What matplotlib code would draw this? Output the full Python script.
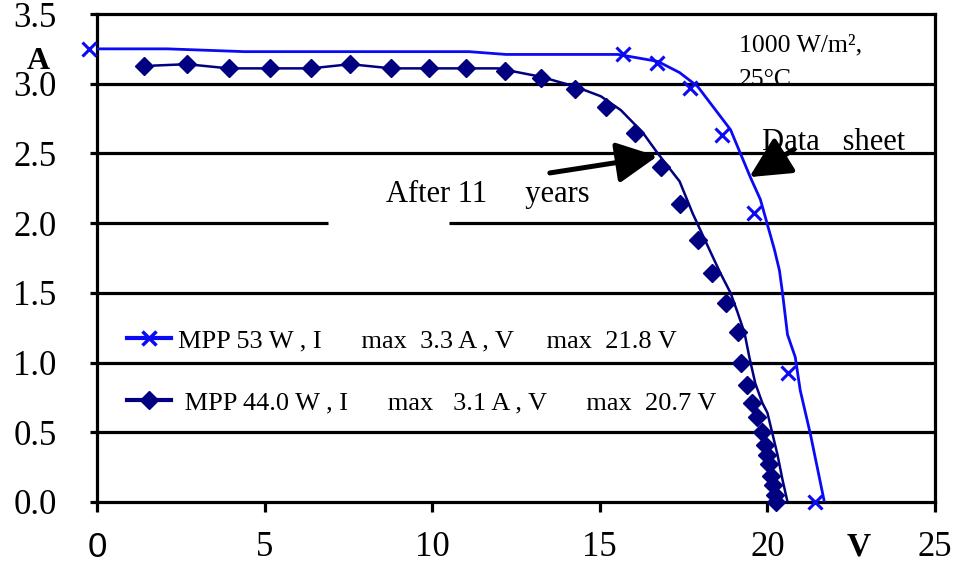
import matplotlib
matplotlib.use("Agg")
import matplotlib.pyplot as plt
from matplotlib.lines import Line2D

plt.rcParams['font.family'] = ['Liberation Serif', 'DejaVu Serif']

# Data sheet curve (line) and its measured markers
ds_line_v = [0.0, 2.1, 4.4, 11.1, 12.2, 15.54, 16.73, 17.38, 17.92, 18.90, 19.49, 19.79,
             20.21, 20.36, 20.45, 20.60, 20.83, 20.98, 21.28, 21.70]
ds_line_i = [3.25, 3.25, 3.23, 3.23, 3.21, 3.21, 3.16, 3.08, 2.98, 2.67, 2.33, 2.17,
             1.81, 1.66, 1.50, 1.20, 1.04, 0.80, 0.49, 0.0]
ds_mark_v = [-0.25, 15.7, 16.7, 17.7, 18.66, 19.6, 20.6, 21.43]
ds_mark_i = [3.25, 3.21, 3.15, 2.97, 2.63, 2.07, 0.925, 0.0]

# After 11 years curve (line) and measured markers
y11_line_v = [1.70, 2.68, 3.93, 5.15, 6.37, 7.56, 8.78, 9.91, 11.01, 11.96, 13.24, 14.26,
              15.03, 15.63, 16.28, 16.73, 17.38, 17.77, 18.27, 18.60, 18.90, 19.11, 19.32,
              19.46, 19.64, 19.85, 20.0, 20.15, 20.30, 20.45, 20.60]
y11_line_i = [3.13, 3.14, 3.11, 3.11, 3.11, 3.14, 3.11, 3.11, 3.11, 3.11, 3.05, 2.98,
              2.91, 2.81, 2.65, 2.50, 2.30, 2.07, 1.81, 1.64, 1.50, 1.36, 1.21,
              1.04, 0.85, 0.71, 0.64, 0.49, 0.34, 0.16, 0.0]
y11_mark_v = [1.40, 2.68, 3.93, 5.15, 6.37, 7.56, 8.78, 9.91, 11.01, 12.17, 13.24, 14.26,
              15.18, 16.04, 16.82, 17.38, 17.92, 18.36, 18.75, 19.11, 19.20, 19.40, 19.55,
              19.70, 19.85, 19.94, 20.0, 20.06, 20.12, 20.18, 20.24, 20.27]
y11_mark_i = [3.13, 3.14, 3.11, 3.11, 3.11, 3.14, 3.11, 3.11, 3.11, 3.09, 3.04, 2.96,
              2.83, 2.65, 2.40, 2.14, 1.88, 1.64, 1.43, 1.22, 1.00, 0.84, 0.71,
              0.61, 0.50, 0.41, 0.34, 0.27, 0.19, 0.12, 0.05, 0.0]

x_ticks = [0, 5, 10, 15, 20, 25]
y_ticks = [0.0, 0.5, 1.0, 1.5, 2.0, 2.5, 3.0, 3.5]

legend_labels = ["MPP 53 W , I      max  3.3 A , V     max  21.8 V",
                 " MPP 44.0 W , I      max   3.1 A , V      max  20.7 V"]

BLUE = '#0a0af5'
NAVY = '#000080'

fig = plt.figure(figsize=(9.55, 5.64), dpi=100)
ax = fig.add_axes([97 / 955, 1 - 502 / 564, 838 / 955, 488 / 564])
ax.set_xlim(0, 25)
ax.set_ylim(0, 3.5)

# horizontal gridlines
for yv in y_ticks[1:-1]:
    if yv == 2.0:
        ax.hlines(yv, 0, 6.9, color='black', lw=2.3, zorder=2)
        ax.hlines(yv, 10.5, 25, color='black', lw=2.3, zorder=2)
    else:
        ax.axhline(yv, color='black', lw=2.3, zorder=2)

ax.plot(ds_line_v, ds_line_i, color=BLUE, lw=2.0, zorder=3)
ax.plot(ds_mark_v, ds_mark_i, ls='none', marker='x', ms=10, mew=2.2, color=BLUE,
        zorder=4, clip_on=False)
ax.plot(y11_line_v, y11_line_i, color=NAVY, lw=1.8, zorder=3)
ax.plot(y11_mark_v, y11_mark_i, ls='none', marker='D', ms=9, color=NAVY,
        mec=NAVY, zorder=4, clip_on=False)

for s in ax.spines.values():
    s.set_linewidth(2.3)
    s.set_color('black')

ax.set_xticks(x_ticks)
ax.set_yticks(y_ticks)
ax.set_yticklabels([f"{v:.1f}" for v in y_ticks])
ax.tick_params(axis='both', direction='out', width=2.3, labelsize=25, colors='black')
ax.tick_params(axis='y', length=5, pad=24)
ax.tick_params(axis='x', length=7.2, pad=14)
ax.get_xticklabels()[0].set_family('Liberation Sans')

fig.text(38 / 955, 1 - 69 / 564, 'A', fontsize=23, fontweight='bold', ha='center', va='baseline')
fig.text(859 / 955, 1 - 547 / 564, 'V', fontsize=24, fontweight='bold', ha='center', va='center')

ax.text(19.14, 3.228, '1000 W/m²,', fontsize=18.5, ha='left', va='baseline', zorder=1)
ax.text(19.14, 2.985, '25°C', fontsize=18.5, ha='left', va='baseline', zorder=1)
ax.text(19.85, 2.525, 'Data   sheet', fontsize=22, ha='left', va='baseline', zorder=5)
ax.text(8.63, 2.155, 'After 11     years', fontsize=22, ha='left', va='baseline', zorder=5)

arrow_style = '-|>,head_length=2.5,head_width=1.25'
ax.annotate('', xy=(16.72, 2.48), xytext=(13.51, 2.36),
            arrowprops=dict(arrowstyle=arrow_style, mutation_scale=10,
                            color='black', lw=3.6, shrinkA=0, shrinkB=0), zorder=4)
ax.annotate('', xy=(19.46, 2.33), xytext=(20.8, 2.53),
            arrowprops=dict(arrowstyle=arrow_style, mutation_scale=10,
                            color='black', lw=3.6, shrinkA=0, shrinkB=0), zorder=4)

handles = [Line2D([], [], color=BLUE, lw=3, marker='x', ms=10, mew=2.5),
           Line2D([], [], color=NAVY, lw=3, marker='D', ms=9)]
ax.legend(handles, legend_labels, loc='center left', bbox_to_anchor=(30 / 838, (502 - 371.5) / 488),
          frameon=False, fontsize=19, handlelength=1.65, handletextpad=0.27,
          labelspacing=1.45, borderaxespad=0, borderpad=0)

fig.savefig('out.png', dpi=100)
